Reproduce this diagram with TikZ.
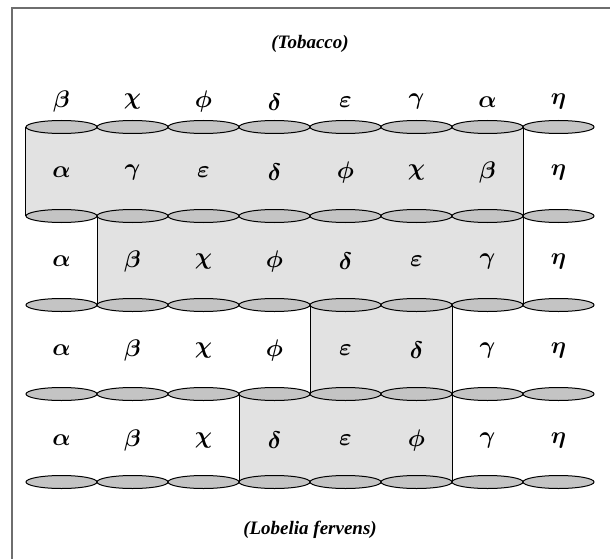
\documentclass[tikz,border=0pt]{standalone}
\usepackage{fontspec}
\setmainfont{Liberation Serif}
\usepackage{tikz}
\usetikzlibrary{shapes.geometric,positioning,calc,backgrounds}
\usepackage{amsmath}
\definecolor{segfill}{RGB}{196,196,196}
\definecolor{blockfill}{RGB}{226,226,226}
\definecolor{framegray}{RGB}{110,110,110}

\begin{document}
\begin{tikzpicture}[
  x=1pt, y=-1pt,
  seg/.style={ellipse, draw=black, line width=1pt, fill=segfill,
              minimum width=71pt, minimum height=13pt, inner sep=0pt},
  gene/.style={font=\boldmath, scale=2.4, inner sep=0pt},
  species/.style={font=\fontsize{19}{22}\selectfont\bfseries\itshape},
  border/.style={draw=black, line width=1pt},
]
\useasboundingbox (0,0) rectangle (610,559);

% Frame
\draw[framegray, line width=1.5pt] (12,559) -- (12,8) -- (610,8);

% Species labels
\node[species] (tobacco) at (310,44) {(Tobacco)};
\node[species] (lobelia) at (310,530) {(Lobelia fervens)};

% Chromosome segments
\foreach \r/\y in {0/127,1/216,2/305,3/394,4/482}
  \foreach \c in {1,...,8}
    \node[seg] (e-\r-\c) at ({61.5+71*(\c-1)},\y) {};

% Gene order, tobacco
\foreach \g [count=\c] in {\beta,\chi,\phi,\delta,\varepsilon,\gamma,\alpha,\eta}
  \node[gene] (t-\c) at ({61.5+71*(\c-1)},102) {$\g$};

% Gene orders, rearranged rows
\foreach \g [count=\c] in {\alpha,\gamma,\varepsilon,\delta,\phi,\chi,\beta,\eta}
  \node[gene] (a-\c) at ({61.5+71*(\c-1)},172) {$\g$};
\foreach \g [count=\c] in {\alpha,\beta,\chi,\phi,\delta,\varepsilon,\gamma,\eta}
  \node[gene] (b-\c) at ({61.5+71*(\c-1)},261) {$\g$};
\foreach \g [count=\c] in {\alpha,\beta,\chi,\phi,\varepsilon,\delta,\gamma,\eta}
  \node[gene] (c-\c) at ({61.5+71*(\c-1)},350) {$\g$};
\foreach \g [count=\c] in {\alpha,\beta,\chi,\delta,\varepsilon,\phi,\gamma,\eta}
  \node[gene] (d-\c) at ({61.5+71*(\c-1)},440) {$\g$};

% Inverted blocks
\begin{scope}[on background layer]
  \fill[blockfill] (e-0-1.west) rectangle (e-1-7.east);
  \fill[blockfill] (e-1-2.west) rectangle (e-2-7.east);
  \fill[blockfill] (e-2-5.west) rectangle (e-3-6.east);
  \fill[blockfill] (e-3-4.west) rectangle (e-4-6.east);
\end{scope}

% Block boundaries
\draw[border] (e-0-1.west) -- (e-1-1.west);
\draw[border] (e-0-7.east) -- (e-2-7.east);
\draw[border] (e-1-1.east) -- (e-2-1.east);
\draw[border] (e-2-4.east) -- (e-3-4.east);
\draw[border] (e-2-6.east) -- (e-4-6.east);
\draw[border] (e-3-3.east) -- (e-4-3.east);
\end{tikzpicture}
\end{document}
